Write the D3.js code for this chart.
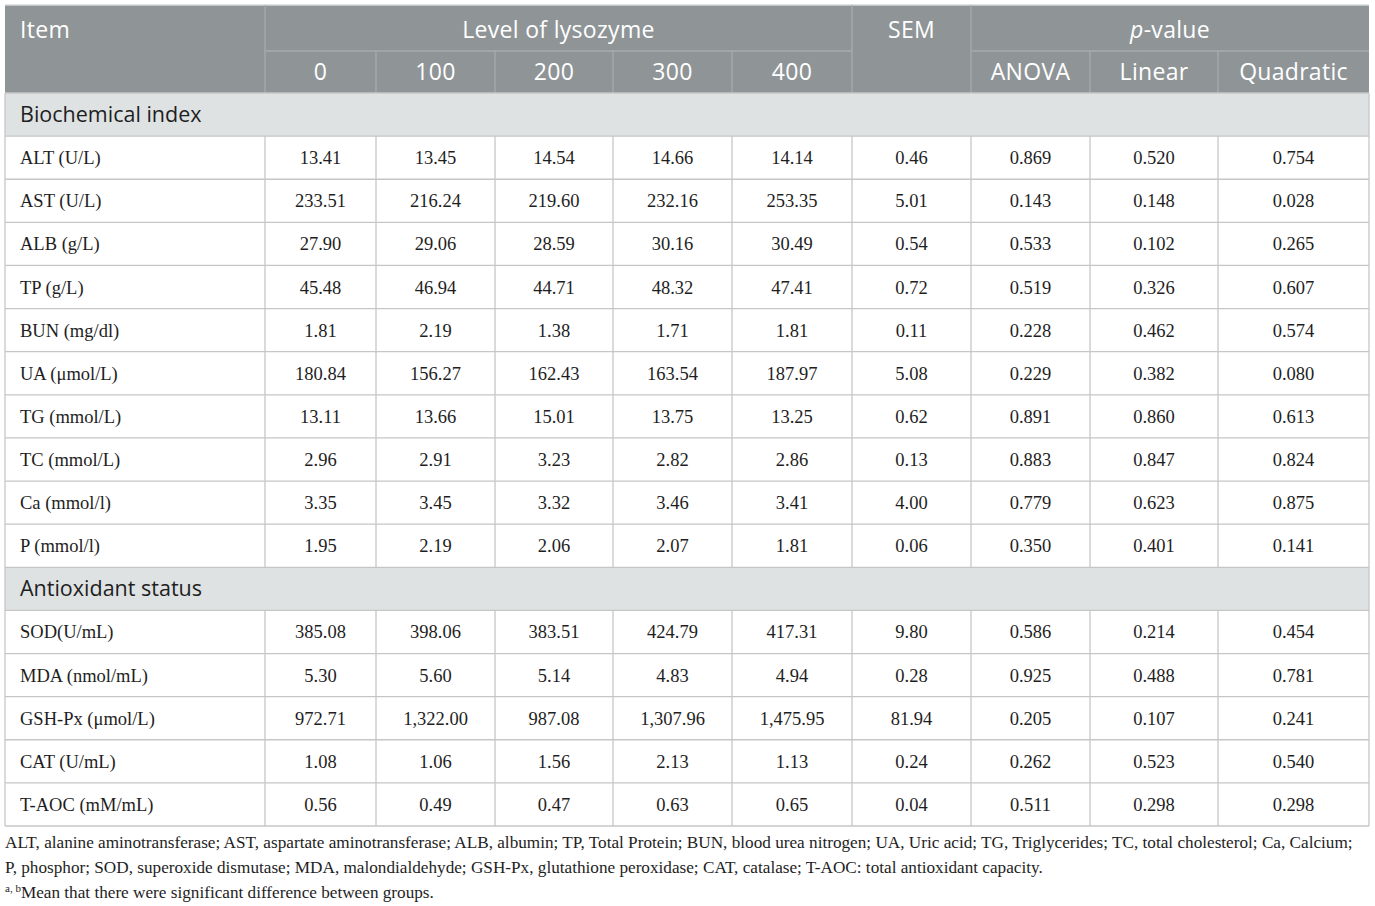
<!DOCTYPE html>
<html lang="en">
<head>
<meta charset="utf-8">
<title>Lysozyme table</title>
<script src="https://cdn.jsdelivr.net/npm/d3@7"></script>
<style>
  body { margin: 0; background: #fff; }
  .hd { fill: #fff; font-family: "Open Sans", Lato, sans-serif; font-size: 23px; letter-spacing: 0.3px; }
  .sec { fill: #1e1e1e; font-family: "Open Sans", Lato, sans-serif; font-size: 21.5px; }
  .cell { fill: #1e1e1e; font-family: "Liberation Serif", serif; font-size: 18.5px; }
  .note { fill: #1e1e1e; font-family: "Liberation Serif", serif; font-size: 17.2px; }
  .grid { stroke: #c6c6c6; stroke-width: 1.3px; }
  .hgrid { stroke: #a6abad; stroke-width: 1.3px; }
</style>
</head>
<body>
<svg width="1375" height="906"></svg>
<script>
// ---- data ----
const items = ["ALT (U/L)", "AST (U/L)", "ALB (g/L)", "TP (g/L)", "BUN (mg/dl)", "UA (\u03bcmol/L)",
  "TG (mmol/L)", "TC (mmol/L)", "Ca (mmol/l)", "P (mmol/l)",
  "SOD(U/mL)", "MDA (nmol/mL)", "GSH-Px (\u03bcmol/L)", "CAT (U/mL)", "T-AOC (mM/mL)"];
const sections = ["Biochemical index", "Antioxidant status"];
const sectionOf = [0,0,0,0,0,0,0,0,0,0,1,1,1,1,1];
const levels = ["0", "100", "200", "300", "400"];
const lys0   = [13.41, 233.51, 27.90, 45.48, 1.81, 180.84, 13.11, 2.96, 3.35, 1.95, 385.08, 5.30, 972.71, 1.08, 0.56];
const lys100 = [13.45, 216.24, 29.06, 46.94, 2.19, 156.27, 13.66, 2.91, 3.45, 2.19, 398.06, 5.60, 1322.00, 1.06, 0.49];
const lys200 = [14.54, 219.60, 28.59, 44.71, 1.38, 162.43, 15.01, 3.23, 3.32, 2.06, 383.51, 5.14, 987.08, 1.56, 0.47];
const lys300 = [14.66, 232.16, 30.16, 48.32, 1.71, 163.54, 13.75, 2.82, 3.46, 2.07, 424.79, 4.83, 1307.96, 2.13, 0.63];
const lys400 = [14.14, 253.35, 30.49, 47.41, 1.81, 187.97, 13.25, 2.86, 3.41, 1.81, 417.31, 4.94, 1475.95, 1.13, 0.65];
const sem    = [0.46, 5.01, 0.54, 0.72, 0.11, 5.08, 0.62, 0.13, 4.00, 0.06, 9.80, 0.28, 81.94, 0.24, 0.04];
const anova  = [0.869, 0.143, 0.533, 0.519, 0.228, 0.229, 0.891, 0.883, 0.779, 0.350, 0.586, 0.925, 0.205, 0.262, 0.511];
const linear = [0.520, 0.148, 0.102, 0.326, 0.462, 0.382, 0.860, 0.847, 0.623, 0.401, 0.214, 0.488, 0.107, 0.523, 0.298];
const quadratic = [0.754, 0.028, 0.265, 0.607, 0.574, 0.080, 0.613, 0.824, 0.875, 0.141, 0.454, 0.781, 0.241, 0.540, 0.298];
const pLabels = ["ANOVA", "Linear", "Quadratic"];
const notes = [
  "ALT, alanine aminotransferase; AST, aspartate aminotransferase; ALB, albumin; TP, Total Protein; BUN, blood urea nitrogen; UA, Uric acid; TG, Triglycerides; TC, total cholesterol; Ca, Calcium;",
  "P, phosphor; SOD, superoxide dismutase; MDA, malondialdehyde; GSH-Px, glutathione peroxidase; CAT, catalase; T-AOC: total antioxidant capacity.",
  "Mean that there were significant difference between groups."
];

// ---- layout ----
const colKeys = ["item", "l0", "l100", "l200", "l300", "l400", "sem", "anova", "linear", "quad"];
const colWidths = [260, 111, 119, 118, 119, 120, 119, 119, 128, 151];
const edges = [5, ...d3.cumsum(colWidths).map(v => v + 5)];
const colX = d3.scaleOrdinal().domain(colKeys).range(edges.slice(0, -1));
const colW = d3.scaleOrdinal().domain(colKeys).range(colWidths);
const left = edges[0], right = edges[edges.length - 1];

const fmt2 = d3.format(",.2f"), fmt3 = d3.format(".3f");
const valueCols = [
  {key: "l0", v: lys0, f: fmt2}, {key: "l100", v: lys100, f: fmt2}, {key: "l200", v: lys200, f: fmt2},
  {key: "l300", v: lys300, f: fmt2}, {key: "l400", v: lys400, f: fmt2}, {key: "sem", v: sem, f: fmt2},
  {key: "anova", v: anova, f: fmt3}, {key: "linear", v: linear, f: fmt3}, {key: "quad", v: quadratic, f: fmt3}
];

// body rows: section rows interleaved with item rows
const rows = [];
items.forEach((it, i) => {
  if (i === 0 || sectionOf[i] !== sectionOf[i - 1]) rows.push({type: "sec", label: sections[sectionOf[i]]});
  rows.push({type: "item", label: it, i: i});
});
rows.forEach((r, k) => r.id = k);

const headTop = 5, headMid = 51, headBot = 93, bodyBot = 826;
const y = d3.scaleBand().domain(rows.map(r => r.id)).range([headBot, bodyBot]);

const svg = d3.select("svg");

// header background
svg.append("rect").attr("x", left).attr("y", headTop)
  .attr("width", right - left).attr("height", headBot - headTop).attr("fill", "#8f9597");
svg.append("line").attr("x1", left).attr("x2", right).attr("y1", headTop).attr("y2", headTop)
  .attr("stroke", "#d4d7d8").attr("stroke-width", 1.3);

// header grid
const hg = svg.append("g").classed("hgrid", true);
["l0", "sem", "anova"].forEach(k => {
  hg.append("line").attr("x1", colX(k)).attr("x2", colX(k)).attr("y1", headTop).attr("y2", headBot);
});
["l100", "l200", "l300", "l400", "linear", "quad"].forEach(k => {
  hg.append("line").attr("x1", colX(k)).attr("x2", colX(k)).attr("y1", headMid).attr("y2", headBot);
});
hg.append("line").attr("x1", colX("l0")).attr("x2", colX("sem")).attr("y1", headMid).attr("y2", headMid);
hg.append("line").attr("x1", colX("anova")).attr("x2", right).attr("y1", headMid).attr("y2", headMid);

// header text
const hy1 = 38, hy2 = 80;
svg.append("text").classed("hd", true).attr("x", 20).attr("y", hy1).text("Item");
svg.append("text").classed("hd", true).attr("text-anchor", "middle")
  .attr("x", (colX("l0") + colX("sem")) / 2).attr("y", hy1).text("Level of lysozyme");
svg.append("text").classed("hd", true).attr("text-anchor", "middle")
  .attr("x", colX("sem") + colW("sem") / 2).attr("y", hy1).text("SEM");
const pv = svg.append("text").classed("hd", true).attr("text-anchor", "middle")
  .attr("x", (colX("anova") + right) / 2).attr("y", hy1);
pv.append("tspan").attr("font-style", "italic").text("p");
pv.append("tspan").text("-value");

svg.append("g").selectAll("text").data(levels).join("text").classed("hd", true)
  .attr("text-anchor", "middle")
  .attr("x", (d, i) => colX(colKeys[i + 1]) + colW(colKeys[i + 1]) / 2)
  .attr("y", hy2).text(d => d);
svg.append("g").selectAll("text").data(pLabels).join("text").classed("hd", true)
  .attr("text-anchor", "middle")
  .attr("x", (d, i) => colX(colKeys[i + 7]) + colW(colKeys[i + 7]) / 2)
  .attr("y", hy2).text(d => d);

// section backgrounds
svg.append("g").selectAll("rect").data(rows.filter(r => r.type === "sec")).join("rect")
  .attr("x", left).attr("y", d => y(d.id))
  .attr("width", right - left).attr("height", y.bandwidth()).attr("fill", "#dfe2e3");

// body grid
const g = svg.append("g").classed("grid", true);
g.selectAll("line.h").data(rows.map(r => r.id).concat(["end"])).join("line").classed("h", true)
  .attr("x1", left).attr("x2", right)
  .attr("y1", d => d === "end" ? bodyBot : y(d)).attr("y2", d => d === "end" ? bodyBot : y(d));
g.selectAll("line.outer").data([left, right]).join("line").classed("outer", true)
  .attr("x1", d => d).attr("x2", d => d).attr("y1", headBot).attr("y2", bodyBot);
const itemRows = rows.filter(r => r.type === "item");
itemRows.forEach(r => {
  colKeys.slice(1).forEach(k => {
    g.append("line").attr("x1", colX(k)).attr("x2", colX(k))
      .attr("y1", y(r.id)).attr("y2", y(r.id) + y.bandwidth());
  });
});

// section labels
svg.append("g").selectAll("text").data(rows.filter(r => r.type === "sec")).join("text").classed("sec", true)
  .attr("x", 20).attr("y", d => y(d.id) + y.bandwidth() / 2 + 7.5).text(d => d.label);

// item labels
svg.append("g").selectAll("text").data(itemRows).join("text").classed("cell", true)
  .attr("x", 20).attr("y", d => y(d.id) + y.bandwidth() / 2 + 6.5).text(d => d.label);

// values
valueCols.forEach(c => {
  svg.append("g").selectAll("text").data(itemRows).join("text").classed("cell", true)
    .attr("text-anchor", "middle")
    .attr("x", colX(c.key) + colW(c.key) / 2)
    .attr("y", d => y(d.id) + y.bandwidth() / 2 + 6.5)
    .text(d => c.f(c.v[d.i]));
});

// footnotes
const noteY = [848, 873, 898];
const noteLines = svg.append("g").selectAll("text").data(notes.slice(0, 2)).join("text").classed("note", true)
  .attr("x", left).attr("y", (d, i) => noteY[i]).text(d => d);
const n3 = svg.append("text").classed("note", true).attr("x", left).attr("y", noteY[2]);
n3.append("tspan").attr("font-size", "11px").attr("dy", -6).text("a, b");
n3.append("tspan").attr("dy", 6).text(notes[2]);

// shrink footnotes if the long line would run past the table edge
const longest = noteLines.nodes()[0].getComputedTextLength();
if (longest > right - left - 2) {
  const k = (right - left - 2) / longest;
  svg.selectAll("text.note").style("font-size", (17.2 * k) + "px");
}
</script>
</body>
</html>
